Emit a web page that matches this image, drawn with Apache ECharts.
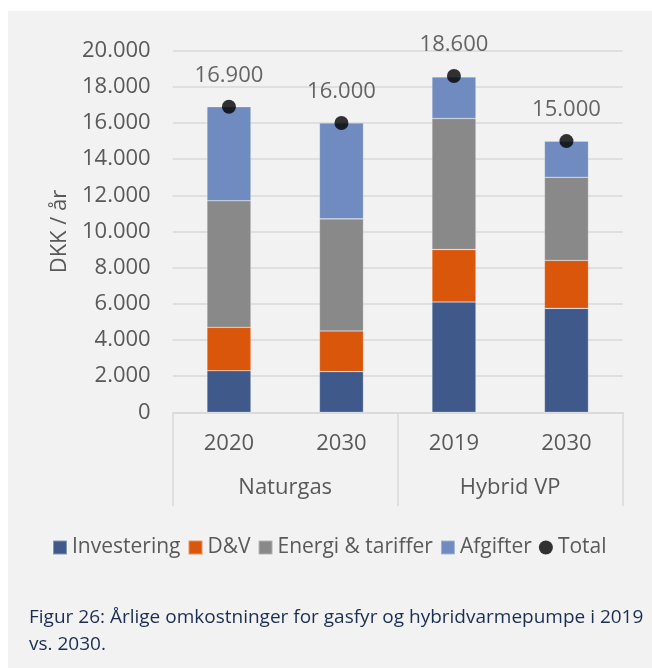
<!DOCTYPE html>
<html>
<head>
<meta charset="utf-8">
<script src="https://cdn.jsdelivr.net/npm/echarts@6/dist/echarts.min.js"></script>
<style>
  html, body { margin: 0; padding: 0; background: #fff; }
  #chart { width: 652px; height: 668px; }
</style>
</head>
<body>
<div id="chart"></div>
<script>
// Årlige omkostninger (DKK / år)
const years = ['2020', '2030', '2019', '2030'];
const groups = ['Naturgas', 'Hybrid VP'];
const investering = [2300, 2250, 6100, 5750];
const dv = [2400, 2250, 2900, 2650];
const energi = [7000, 6200, 7250, 4600];
const afgifter = [5200, 5300, 2300, 2000];
const total = [16900, 16000, 18600, 15000];
const yTicks = [0, 2000, 4000, 6000, 8000, 10000, 12000, 14000, 16000, 18000, 20000];

const FONT = '"Open Sans", sans-serif';
const fmt = v => String(v).replace(/\B(?=(\d{3})+(?!\d))/g, '.');

const chart = echarts.init(document.getElementById('chart'));

const barSeries = (name, data, color) => ({
  name, type: 'bar', stack: 'sum', data,
  barWidth: 44,
  itemStyle: { color, borderColor: 'rgba(255,255,255,0.35)', borderWidth: 0.6 }
});

chart.setOption({
  backgroundColor: '#fff',
  animation: false,
  textStyle: { fontFamily: FONT },
  graphic: [
    { type: 'rect', z: -100, shape: { x: 8, y: 11, width: 644, height: 657 }, style: { fill: '#F2F2F2' } },
    {
      type: 'text', left: 29, top: 604,
      style: {
        text: 'Figur 26: Årlige omkostninger for gasfyr og hybridvarmepumpe i 2019\nvs. 2030.',
        font: '19px "Open Sans", sans-serif', fill: '#1B2E52', lineHeight: 27
      }
    }
  ],
  grid: { left: 172.7, right: 29.3, top: 50.7, bottom: 255.7 },
  legend: {
    left: 47, top: 532,
    itemWidth: 14, itemHeight: 14, itemGap: 7,
    textStyle: { fontSize: 21, color: '#595959', fontFamily: FONT },
    data: [
      { name: 'Investering', icon: 'rect' },
      { name: 'D&V', icon: 'rect' },
      { name: 'Energi & tariffer', icon: 'rect' },
      { name: 'Afgifter', icon: 'rect' },
      { name: 'Total', icon: 'circle' }
    ]
  },
  xAxis: [
    {
      type: 'category', data: years,
      axisLine: { lineStyle: { color: '#D9D9D9', width: 1.5 } },
      axisTick: { show: false },
      axisLabel: { fontSize: 22, color: '#595959', margin: 20 }
    },
    {
      type: 'category', data: groups, position: 'bottom',
      axisLine: { show: false },
      axisTick: { show: true, interval: 0, length: 94, lineStyle: { color: '#D9D9D9', width: 1.5 } },
      axisLabel: { fontSize: 22, color: '#595959', margin: 64 }
    }
  ],
  yAxis: {
    type: 'value', min: 0, max: 20000, interval: 2000,
    name: 'DKK / år', nameLocation: 'middle', nameGap: 102,
    nameTextStyle: { fontSize: 22, color: '#595959' },
    axisLine: { show: false }, axisTick: { show: false },
    axisLabel: { fontSize: 22, color: '#595959', margin: 22, formatter: v => yTicks.includes(v) ? fmt(v) : '' },
    splitLine: { lineStyle: { color: '#D9D9D9', width: 1.5 } }
  },
  series: [
    barSeries('Investering', investering, '#3F5A8A'),
    barSeries('D&V', dv, '#D9560B'),
    barSeries('Energi & tariffer', energi, '#898989'),
    barSeries('Afgifter', afgifter, '#6F8BBF'),
    {
      name: 'Total', type: 'scatter', data: total, symbolSize: 14, z: 5,
      itemStyle: { color: '#000' },
      label: { show: true, position: 'top', distance: 13, fontSize: 22, color: '#404040', formatter: p => fmt(p.value) }
    }
  ]
});
</script>
</body>
</html>
